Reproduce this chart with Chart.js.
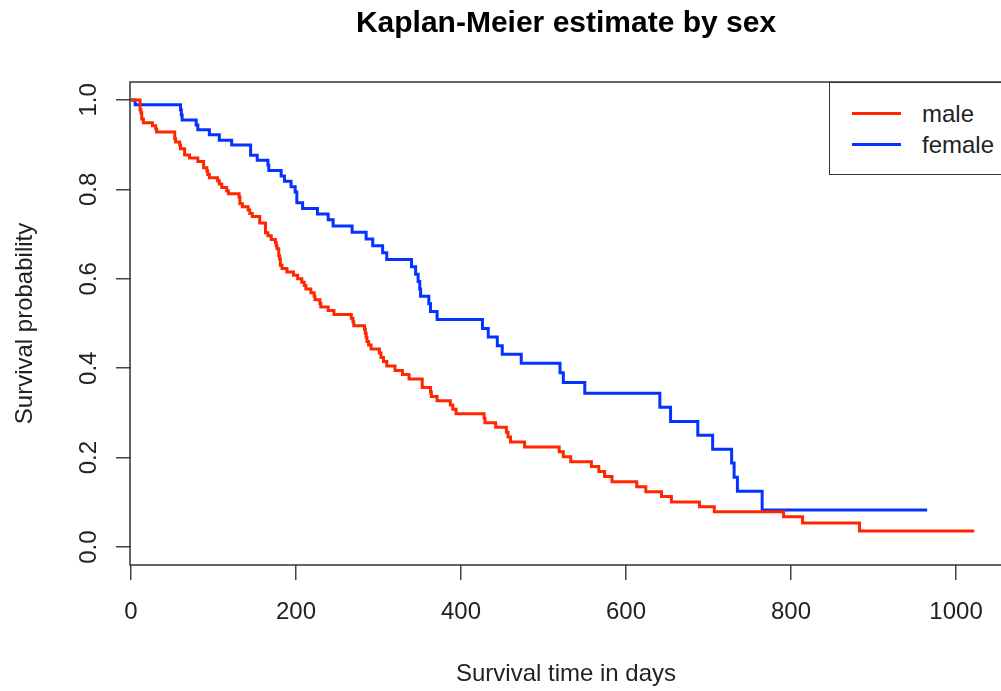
<!DOCTYPE html>
<html>
<head>
<meta charset="utf-8">
<script src="https://cdn.jsdelivr.net/npm/chart.js@4/dist/chart.umd.min.js"></script>
<style>
  body { margin: 0; background: #fff; }
  #wrap { position: relative; width: 1001px; height: 691px; overflow: hidden; }
  #legend {
    position: absolute; left: 829px; top: 82px; width: 200px; height: 91px;
    border: 1.5px solid #333; background: #fff;
    font-family: "Liberation Sans", Arial, Helvetica, sans-serif; font-size: 24px; color: #222;
  }
  .row { position: absolute; left: 0; height: 28px; line-height: 28px; }
  .row .ln { position: absolute; left: 22px; top: 12px; width: 49px; height: 3px; }
  .row .tx { position: absolute; left: 92px; top: 0; white-space: nowrap; }
</style>
</head>
<body>
<div id="wrap">
  <canvas id="chartCanvas" width="1001" height="691"></canvas>
  <div id="legend">
    <div class="row" style="top:17px"><span class="ln" style="background:#ff2600"></span><span class="tx">male</span></div>
    <div class="row" style="top:48px"><span class="ln" style="background:#0433ff"></span><span class="tx">female</span></div>
  </div>
</div>
<script>
// --- Dados (Kaplan-Meier) ---
const maleTime = [0, 11, 12, 13, 15, 26, 30, 31, 53, 54, 59, 60, 65, 71, 81, 88, 92, 93, 95, 105,
  107, 110, 116, 118, 131, 132, 135, 142, 144, 147, 156, 163, 166, 170, 175, 176, 177, 179, 180, 181,
  183, 189, 197, 202, 207, 210, 212, 218, 222, 223, 229, 230, 239, 246, 267, 269, 270, 283, 284, 285,
  286, 288, 291, 301, 303, 306, 310, 320, 329, 337, 353, 363, 364, 371, 387, 390, 394, 428, 429, 442,
  455, 457, 460, 477, 519, 524, 533, 558, 567, 574, 583, 613, 624, 643, 655, 689, 707, 791, 814, 883, 1022];
const maleSurv = [1, 0.978, 0.971, 0.957, 0.949, 0.942, 0.935, 0.928, 0.913, 0.906, 0.899, 0.891, 0.877, 0.870, 0.862, 0.848, 0.841, 0.833, 0.826, 0.819,
  0.812, 0.804, 0.797, 0.790, 0.783, 0.768, 0.761, 0.754, 0.746, 0.739, 0.725, 0.703, 0.696, 0.688, 0.681, 0.674, 0.667, 0.652, 0.645, 0.630,
  0.623, 0.615, 0.608, 0.600, 0.592, 0.585, 0.577, 0.569, 0.561, 0.553, 0.545, 0.537, 0.529, 0.520, 0.512, 0.504, 0.495, 0.487, 0.478, 0.469,
  0.460, 0.452, 0.443, 0.434, 0.424, 0.415, 0.405, 0.395, 0.386, 0.376, 0.357, 0.347, 0.337, 0.327, 0.318, 0.308, 0.298, 0.288, 0.278, 0.268,
  0.257, 0.246, 0.235, 0.224, 0.213, 0.202, 0.191, 0.180, 0.169, 0.158, 0.146, 0.135, 0.124, 0.113, 0.101, 0.090, 0.079, 0.068, 0.054, 0.036, 0.036];

const femaleTime = [0, 5, 60, 61, 62, 79, 81, 95, 107, 122, 145, 153, 166, 167, 182, 186, 194, 199, 201, 208,
  226, 239, 245, 268, 285, 293, 305, 310, 340, 345, 348, 350, 351, 361, 363, 371, 426, 433, 444, 450,
  473, 520, 524, 550, 641, 654, 687, 705, 728, 731, 735, 765, 965];
const femaleSurv = [1, 0.989, 0.978, 0.966, 0.955, 0.944, 0.933, 0.922, 0.910, 0.899, 0.876, 0.865, 0.854, 0.842, 0.830, 0.818, 0.806, 0.794, 0.770, 0.757,
  0.745, 0.732, 0.718, 0.704, 0.689, 0.674, 0.658, 0.643, 0.627, 0.610, 0.594, 0.577, 0.561, 0.544, 0.527, 0.509, 0.489, 0.470, 0.450, 0.431,
  0.411, 0.390, 0.368, 0.344, 0.313, 0.281, 0.250, 0.219, 0.188, 0.156, 0.125, 0.083, 0.083];

const xTicks = [0, 200, 400, 600, 800, 1000];
const yTicks = [0, 0.2, 0.4, 0.6, 0.8, 1.0];

const FONT = '"Liberation Sans", Arial, Helvetica, sans-serif';

function pontos(ts, ss) {
  return ts.map((t, i) => ({ x: t, y: ss[i] }));
}

// moldura do gráfico (estilo R: box)
const boxPlugin = {
  id: 'box',
  afterDraw(chart) {
    const { ctx, chartArea: a } = chart;
    ctx.save();
    ctx.strokeStyle = '#333';
    ctx.lineWidth = 1.5;
    ctx.beginPath();
    ctx.moveTo(a.right + 20, a.top);
    ctx.lineTo(a.left - 1, a.top);
    ctx.lineTo(a.left - 1, a.bottom);
    ctx.lineTo(a.right + 20, a.bottom);
    ctx.stroke();
    ctx.restore();
  }
};

const canvas = document.getElementById('chartCanvas');
new Chart(canvas, {
  type: 'line',
  data: {
    datasets: [
      { label: 'male', data: pontos(maleTime, maleSurv), borderColor: '#ff2600', borderWidth: 3,
        stepped: true, pointRadius: 0, fill: false },
      { label: 'female', data: pontos(femaleTime, femaleSurv), borderColor: '#0433ff', borderWidth: 3,
        stepped: true, pointRadius: 0, fill: false }
    ]
  },
  options: {
    responsive: false,
    animation: false,
    layout: { padding: 0 },
    plugins: {
      legend: { display: false },
      tooltip: { enabled: false },
      title: {
        display: true,
        text: 'Kaplan-Meier estimate by sex',
        fullSize: false,
        color: '#000',
        font: { family: FONT, size: 30, weight: 'bold', lineHeight: 1.2 },
        padding: { top: 6, bottom: 40 }
      }
    },
    scales: {
      x: {
        type: 'linear',
        min: 0,
        max: 1054.5,
        afterFit: s => { s.height = 126; },
        afterBuildTicks: s => { s.ticks = xTicks.map(v => ({ value: v })); },
        grid: { drawOnChartArea: false, drawTicks: true, tickLength: 15, color: '#444', lineWidth: 1.5 },
        border: { display: false },
        ticks: { color: '#222', font: { family: FONT, size: 24 }, padding: 18, maxRotation: 0,
          callback: v => String(v) },
        title: { display: true, text: 'Survival time in days', color: '#222',
          font: { family: FONT, size: 24, lineHeight: 1.2 }, padding: { top: 0, bottom: 2 } }
      },
      y: {
        min: -0.04,
        max: 1.04,
        afterFit: s => { s.width = 131; },
        afterBuildTicks: s => { s.ticks = yTicks.map(v => ({ value: v })); },
        grid: { drawOnChartArea: false, drawTicks: true, tickLength: 15, color: '#444', lineWidth: 1.5 },
        border: { display: false },
        ticks: { color: '#222', font: { family: FONT, size: 24 }, padding: 10,
          minRotation: 90, maxRotation: 90, crossAlign: 'center',
          callback: v => v.toFixed(1) },
        title: { display: true, text: 'Survival probability', color: '#222',
          font: { family: FONT, size: 24, lineHeight: 1.2 }, padding: { top: 11, bottom: 0 } }
      }
    }
  },
  plugins: [boxPlugin]
});
</script>
</body>
</html>
